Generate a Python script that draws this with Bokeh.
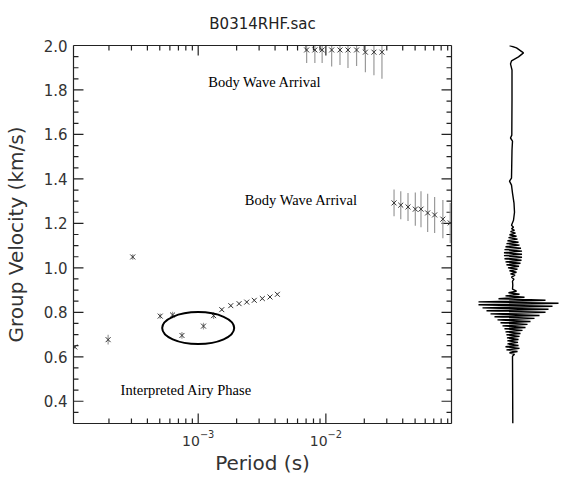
import math
from bokeh.plotting import figure
from bokeh.layouts import row
from bokeh.models import (LogAxis, LinearAxis, FixedTicker,
                          LogTickFormatter, PrintfTickFormatter, CustomJSTickFormatter,
                          Range1d, Label)
from bokeh.embed import file_html
from bokeh.resources import INLINE

# ---- dispersion picks: period (s), group velocity (km/s), uncertainty ----
period = [1.08e-4, 1.97e-4, 3.07e-4, 5.04e-4, 6.30e-4, 7.46e-4, 1.10e-3, 1.32e-3,
          1.53e-3, 1.80e-3, 2.09e-3, 2.40e-3, 2.75e-3, 3.18e-3, 3.65e-3, 4.17e-3,
          7.07e-3, 8.20e-3, 9.35e-3, 1.11e-2, 1.29e-2, 1.49e-2, 1.74e-2, 2.04e-2,
          2.38e-2, 2.75e-2,
          3.42e-2, 3.86e-2, 4.40e-2, 5.02e-2, 5.56e-2, 6.27e-2, 7.11e-2, 8.25e-2, 9.42e-2]
velocity = [0.644, 0.677, 1.049, 0.783, 0.788, 0.696, 0.738, 0.785,
            0.812, 0.830, 0.839, 0.846, 0.854, 0.862, 0.869, 0.881,
            1.98, 1.98, 1.98, 1.98, 1.98, 1.98, 1.98, 1.97,
            1.97, 1.97,
            1.292, 1.282, 1.274, 1.264, 1.264, 1.247, 1.238, 1.219, 1.202]
vel_err = [0.008, 0.022, 0.012, 0.012, 0.015, 0.015, 0.015, 0.015,
           0.006, 0.005, 0.004, 0.004, 0.004, 0.004, 0.004, 0.004,
           0.059, 0.059, 0.059, 0.075, 0.068, 0.081, 0.072, 0.090,
           0.104, 0.120,
           0.060, 0.063, 0.063, 0.075, 0.081, 0.086, 0.081, 0.086, 0.090]

# Airy phase highlight (period, velocity)
airy_center = (1.0e-3, 0.729)

# annotations: (period, velocity, text)
notes = [(3.33e-3, 1.836, "Body Wave Arrival"),
         (6.44e-3, 1.305, "Body Wave Arrival"),
         (8.06e-4, 0.451, "Interpreted Airy Phase")]

# ---- seismogram plotted against group velocity (amplitude in counts) ----
trace_vel = [2.000, 1.989, 1.967, 1.949, 1.931, 1.917, 1.890, 1.755, 1.597, 1.584,
             1.570, 1.530, 1.404, 1.390, 1.372, 1.336, 1.291, 1.250, 1.214, 1.192,
             # first wave packet
             1.183, 1.176, 1.169, 1.163, 1.156, 1.149, 1.142, 1.136, 1.129, 1.122,
             1.115, 1.109, 1.102, 1.095, 1.088, 1.082, 1.075, 1.068, 1.061, 1.055,
             1.048, 1.041, 1.034, 1.027, 1.021, 1.014, 1.007, 1.000, 0.994, 0.987,
             0.980, 0.973, 0.967, 0.958, 0.949, 0.940,
             0.922, 0.904,
             # main wave packet
             0.895, 0.888, 0.881, 0.874, 0.868, 0.861, 0.854, 0.847, 0.841, 0.834,
             0.827, 0.820, 0.814, 0.807, 0.800, 0.793, 0.786, 0.780, 0.773, 0.766,
             0.759, 0.753, 0.746, 0.739, 0.732, 0.726, 0.719, 0.712, 0.705, 0.699,
             0.692, 0.685, 0.678, 0.672, 0.665, 0.658, 0.651, 0.645, 0.638, 0.631,
             0.624, 0.618, 0.611, 0.602,
             0.300]
trace_amp = [-3, 4, 11, 6, -1, -2, -0.5, -0.5, -0.7, -2,
             0, -0.5, -1, -3, -1, 0, 1.5, 2, 1, -1,
             1, -1, 2, -2, 3, -3, 4, -4, 5, -5,
             6, -6, 7, -7, 8.5, -8, 9.5, -8.5, 9.5, -8.5,
             9.5, -8, 9, -7, 8, -6, 6.5, -4.5, 5, -3,
             4, -2, 2.5, -1, 1.5, 0,
             0.3, 0,
             4, -4, 7, -7, 12, -14, 33, -34, 46, -34,
             40, -30, 36, -26, 33, -22, 27, -18, 22, -15,
             18, -12, 15, -10, 13, -8, 10, -7, 8, -6,
             7, -5.5, 6, -5, 5.5, -5, 6, -7, 7, -6,
             5, -3, 2, 0,
             0.3]

SANS = "DejaVu Sans"
SERIF = "Liberation Serif"
INK = "#222222"

P_W = 455
X0, X1 = 1.055e-4, 0.0964
Y0, Y1 = 0.3, 2.0
FRAME_W, FRAME_H = 379, 376          # plotting frame size in pixels

p = figure(width=P_W, height=477, x_axis_type="log",
           x_range=Range1d(X0, X1), y_range=Range1d(Y0, Y1),
           output_backend="svg", toolbar_location=None,
           min_border_left=73, min_border_right=0, min_border_top=45, min_border_bottom=54)
p.grid.visible = False
p.outline_line_color = None
p.background_fill_color = None
p.border_fill_color = "white"

p.title.text = "B0314RHF.sac"
p.title.text_font = SANS
p.title.text_font_size = "15px"
p.title.text_font_style = "normal"
p.title.text_color = INK
p.title.align = "center"
p.title.offset = 21

# tick positions
decades = [1e-4, 1e-3, 1e-2, 1e-1]
minors = [m * d for d in decades for m in range(2, 10)]
y_major = [round(0.2 * k, 1) for k in range(2, 11)]
y_minor = [round(0.3 + 0.05 * k, 2) for k in range(35)]
y_minor = [v for v in y_minor if v not in y_major]
x_major_in = [v for v in decades if X0 < v < X1]
x_minor_in = [v for v in minors if X0 < v < X1]

xticker = FixedTicker(ticks=decades, minor_ticks=[])
yticker = FixedTicker(ticks=y_major, minor_ticks=[])
blank = CustomJSTickFormatter(code="return ' '")


def style_axis(ax):
    ax.axis_line_color = INK
    ax.axis_line_width = 1.2
    ax.major_tick_line_color = None
    ax.minor_tick_line_color = None
    ax.major_tick_in = 0
    ax.major_tick_out = 0
    ax.minor_tick_in = 0
    ax.minor_tick_out = 0


xa = p.xaxis[0]
xa.ticker = xticker
xa.formatter = LogTickFormatter()
style_axis(xa)
xa.major_label_text_font = SANS
xa.major_label_text_font_size = "14px"
xa.major_label_text_color = "#333333"
xa.major_label_standoff = 6
xa.axis_label = "Period (s)"
xa.axis_label_text_font = SANS
xa.axis_label_text_font_size = "20px"
xa.axis_label_text_font_style = "normal"
xa.axis_label_text_color = "#333333"
xa.axis_label_standoff = 2

ya = p.yaxis[0]
ya.ticker = yticker
ya.formatter = PrintfTickFormatter(format="%.1f")
style_axis(ya)
ya.major_label_text_font = SANS
ya.major_label_text_font_size = "15px"
ya.major_label_text_color = "#333333"
ya.major_label_standoff = 6
ya.axis_label = "Group Velocity (km/s)"
ya.axis_label_text_font = SANS
ya.axis_label_text_font_size = "20px"
ya.axis_label_text_font_style = "normal"
ya.axis_label_text_color = "#333333"
ya.axis_label_standoff = 13

top = LogAxis(ticker=xticker, formatter=blank)
style_axis(top)
top.major_label_text_font_size = "4px"
top.major_label_standoff = 0
p.add_layout(top, "above")

right = LinearAxis(ticker=yticker, formatter=blank)
style_axis(right)
right.major_label_text_font_size = "4px"
right.major_label_standoff = 0
p.add_layout(right, "right")

# inward tick marks: segments that start inside the frame and run out past the edge
px_per_decade = FRAME_W / math.log10(X1 / X0)
px_per_unit = FRAME_H / (Y1 - Y0)
TK = dict(line_color=INK, line_width=1.2)


def x_in(edge, n_px, sign):
    return edge * 10 ** (sign * n_px / px_per_decade)


for length, ys in ((10, y_major), (5, y_minor)):
    n = len(ys)
    p.segment(x0=[x_in(X0, length, 1)] * n, y0=ys, x1=[x_in(X0, -3, 1)] * n, y1=ys, **TK)
    p.segment(x0=[x_in(X1, length, -1)] * n, y0=ys, x1=[x_in(X1, -3, -1)] * n, y1=ys, **TK)
for length, xs in ((10, x_major_in), (5, x_minor_in)):
    n = len(xs)
    p.segment(x0=xs, y0=[Y0 + length / px_per_unit] * n, x1=xs, y1=[Y0 - 3 / px_per_unit] * n, **TK)
    p.segment(x0=xs, y0=[Y1 - length / px_per_unit] * n, x1=xs, y1=[Y1 + 3 / px_per_unit] * n, **TK)

# error bars, then pick markers
lo = [v - e for v, e in zip(velocity, vel_err)]
hi = [v + e for v, e in zip(velocity, vel_err)]
p.segment(x0=period, y0=lo, x1=period, y1=hi, line_color="#9a9a9a", line_width=1.2)
p.scatter(x=period, y=velocity, marker="x", size=7, line_color="#333333", line_width=1)

p.ellipse(x=[airy_center[0]], y=[airy_center[1]], width=72, height=32,
          width_units="screen", height_units="screen",
          fill_color=None, line_color="black", line_width=2)

for px, vy, txt in notes:
    p.add_layout(Label(x=px, y=vy, text=txt, text_font=SERIF, text_font_size="14.5px",
                       text_align="center", text_baseline="middle", text_color="black"))

# seismogram panel sharing the velocity axis
p2 = figure(width=562 - P_W, height=477, x_range=Range1d(-(512 - P_W), 50), y_range=p.y_range,
            output_backend="svg", toolbar_location=None,
            min_border_left=0, min_border_right=0, min_border_top=45, min_border_bottom=54)
p2.axis.visible = False
p2.grid.visible = False
p2.outline_line_color = None
p2.background_fill_color = None
p2.line(trace_amp, trace_vel, line_color="black", line_width=1.4)

layout = row(p, p2)
open("out.html", "w").write(file_html(layout, INLINE))
